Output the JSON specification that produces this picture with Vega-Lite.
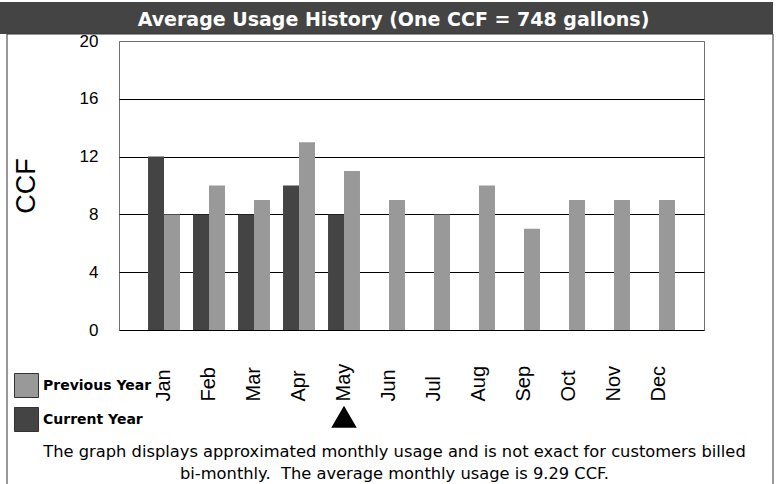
{
  "$schema": "https://vega.github.io/schema/vega-lite/v6.json",
  "width": 585,
  "height": 289,
  "padding": {"left": 0, "top": 2, "right": 0, "bottom": 0},
  "background": "white",
  "config": {"font": "Liberation Sans", "legend": {"gradientHorizontalMaxLength": 900, "gradientHorizontalMinLength": 50, "gradientVerticalMaxLength": 900, "gradientVerticalMinLength": 50}},
  "view": {"stroke": "#707070", "strokeWidth": 1},
  "resolve": {"axis": {"x": "independent"}, "scale": {"stroke": "independent"}},
  "data": {"values": [
    {"month": "Jan", "series": "Current Year", "ccf": 12},
    {"month": "Feb", "series": "Current Year", "ccf": 8},
    {"month": "Mar", "series": "Current Year", "ccf": 8},
    {"month": "Apr", "series": "Current Year", "ccf": 10},
    {"month": "May", "series": "Current Year", "ccf": 8},
    {"month": "Jan", "series": "Previous Year", "ccf": 8},
    {"month": "Feb", "series": "Previous Year", "ccf": 10},
    {"month": "Mar", "series": "Previous Year", "ccf": 9},
    {"month": "Apr", "series": "Previous Year", "ccf": 13},
    {"month": "May", "series": "Previous Year", "ccf": 11},
    {"month": "Jun", "series": "Previous Year", "ccf": 9},
    {"month": "Jul", "series": "Previous Year", "ccf": 8},
    {"month": "Aug", "series": "Previous Year", "ccf": 10},
    {"month": "Sep", "series": "Previous Year", "ccf": 7},
    {"month": "Oct", "series": "Previous Year", "ccf": 9},
    {"month": "Nov", "series": "Previous Year", "ccf": 9},
    {"month": "Dec", "series": "Previous Year", "ccf": 9}
  ]},
  "layer": [
    {
      "mark": {"type": "bar", "strokeWidth": 0},
      "encoding": {
        "x": {
          "field": "month", "type": "nominal",
          "sort": ["Jan", "Feb", "Mar", "Apr", "May", "Jun", "Jul", "Aug", "Sep", "Oct", "Nov", "Dec"],
          "scale": {"domain": ["Jan", "Feb", "Mar", "Apr", "May", "Jun", "Jul", "Aug", "Sep", "Oct", "Nov", "Dec"], "paddingInner": 0.29, "paddingOuter": 0.645},
          "axis": {
            "orient": "bottom",
            "title": ["The graph displays approximated monthly usage and is not exact for customers billed", "bi-monthly.\u00a0 The average monthly usage is 9.29 CCF."],
            "titleX": 275, "titlePadding": 42, "titleFont": "DejaVu Sans", "titleFontSize": 16.3, "titleFontWeight": "normal", "titleColor": "black", "titleLineHeight": 22, "titleBaseline": "top",
            "labelAngle": -90, "labelAlign": "left", "labelBaseline": "middle", "labelPadding": 71, "ticks": false, "tickSize": 0, "domain": false, "grid": false, "labelFontSize": 20, "labelColor": "black", "labelFont": "Liberation Sans"
          }
        },
        "xOffset": {"field": "series", "type": "nominal", "scale": {"domain": ["Current Year", "Previous Year"], "paddingInner": 0, "paddingOuter": 0}},
        "y": {
          "field": "ccf", "type": "quantitative",
          "scale": {"domain": [0, 20], "nice": false},
          "axis": {"values": [0, 4, 8, 12, 16, 20], "title": "CCF", "titleFontSize": 27, "titleFontWeight": "normal", "titleColor": "black", "titleFont": "Liberation Sans", "titlePadding": 39, "labelFontSize": 17, "labelColor": "black", "labelPadding": 21, "labelFont": "Liberation Sans", "ticks": false, "domain": false, "grid": true, "gridColor": {"condition": {"test": "datum.value === 20", "value": "#707070"}, "value": "black"}, "gridOpacity": 1}
        },
        "color": {
          "field": "series", "type": "nominal",
          "scale": {"domain": ["Previous Year", "Current Year"], "range": ["#999999", "#444444"]},
          "legend": {"orient": "none", "legendX": -105, "legendY": 332, "title": null, "symbolType": "square", "symbolSize": 576, "symbolStrokeColor": "#333333", "symbolStrokeWidth": 1, "symbolOpacity": 1, "labelFont": "DejaVu Sans", "labelFontWeight": "bold", "labelFontSize": 14, "labelColor": "black", "labelOffset": 4, "rowPadding": 5, "direction": "vertical"}
        },
        "stroke": {
          "field": "ccf", "type": "quantitative",
          "scale": {"domain": [0, 20], "range": ["#444444", "#444444"]},
          "legend": {"type": "gradient", "direction": "horizontal", "orient": "none", "legendX": -119, "legendY": -39, "gradientLength": 773, "gradientThickness": 32, "gradientStrokeWidth": 0, "labelExpr": "''", "labelOpacity": 0, "title": null, "padding": 0}
        }
      }
    },
    {
      "data": {"values": [{"month": "May", "marker": -6}]},
      "mark": {"type": "point", "shape": "triangle-up", "filled": true, "color": "black", "size": 650, "opacity": 1, "strokeWidth": 0},
      "encoding": {
        "x": {
          "field": "month", "type": "nominal",
          "axis": {"orient": "top", "labels": false, "ticks": false, "domain": false, "grid": false, "zindex": 3,
            "title": "Average Usage History (One CCF = 748 gallons)",
            "titleX": 274, "titleY": -15.5, "titleBaseline": "alphabetic", "titleAlign": "center", "titleAnchor": null,
            "titleColor": "white", "titleFont": "DejaVu Sans", "titleFontWeight": "bold", "titleFontSize": 19}
        },
        "y": {"field": "marker", "type": "quantitative"},
        "stroke": {
          "field": "marker", "type": "quantitative",
          "scale": {"domain": [-7, -5], "range": ["rgba(255,255,255,0)", "rgba(255,255,255,0)"]},
          "legend": {"type": "gradient", "direction": "vertical", "orient": "none", "legendX": -112, "legendY": -7, "gradientLength": 452, "gradientThickness": 766, "gradientStrokeColor": "#333333", "gradientStrokeWidth": 1, "labelExpr": "''", "labelOpacity": 0, "title": null, "padding": 0}
        }
      }
    }
  ]
}
